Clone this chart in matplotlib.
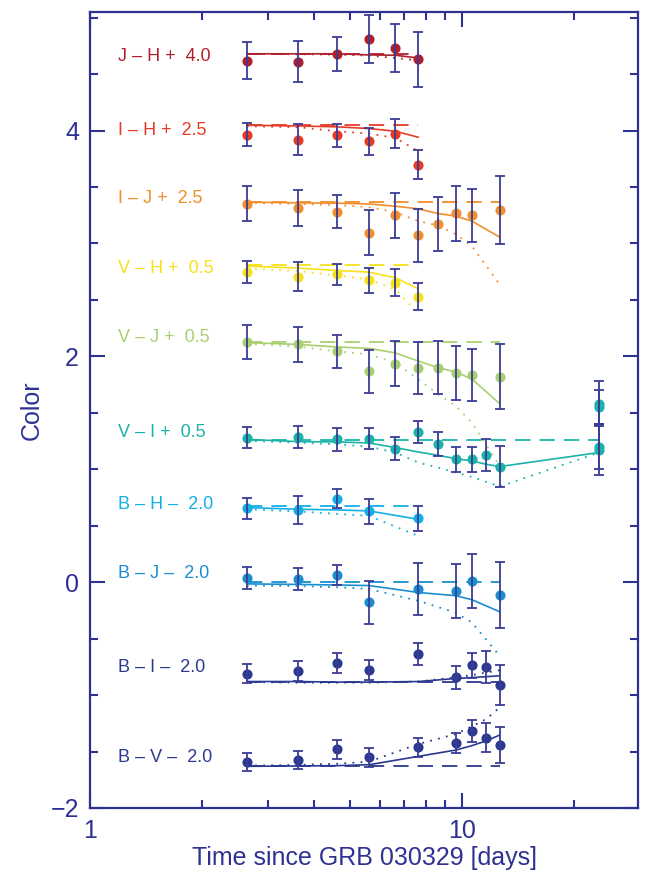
import numpy as np
import matplotlib
matplotlib.use('Agg')
import matplotlib.pyplot as plt

plt.rcParams['font.family'] = ['Liberation Sans', 'DejaVu Sans']

NAVY = '#2e3192'
BAR = '#3a3d94'

# times of the nightly points [days]
t_jh = [2.64, 3.62, 4.62, 5.62, 6.62, 7.62]
jh_c = [4.62, 4.61, 4.68, 4.81, 4.73, 4.63]
jh_e = [0.16, 0.18, 0.15, 0.21, 0.21, 0.24]
jh_solid = [4.68, 4.68, 4.68, 4.67, 4.667, 4.643]
jh_dot = [4.679, 4.676, 4.673, 4.664, 4.643, 4.622]
jh_dash = 4.68

t_ih = [2.64, 3.62, 4.62, 5.62, 6.62, 7.62]
ih_c = [3.965, 3.92, 3.958, 3.906, 3.973, 3.699]
ih_e = [0.10, 0.14, 0.10, 0.12, 0.13, 0.13]
ih_solid = [4.047, 4.041, 4.033, 4.018, 3.994, 3.941]
ih_dot = [4.038, 4.030, 3.994, 3.973, 3.935, 3.817]
ih_dash = 4.047

t_ij = [2.64, 3.62, 4.62, 5.62, 6.62, 7.62, 8.62, 9.62, 10.62, 12.62]
ij_c = [3.351, 3.316, 3.283, 3.094, 3.248, 3.071, 3.174, 3.268, 3.248, 3.295]
ij_e = [0.155, 0.16, 0.15, 0.20, 0.20, 0.236, 0.24, 0.243, 0.237, 0.30]
ij_solid = [3.366, 3.36, 3.357, 3.35, 3.33, 3.307, 3.265, 3.242, 3.198, 3.056]
ij_dot = [3.36, 3.35, 3.34, 3.322, 3.277, 3.198, 3.159, 3.08, 2.976, 2.637]
ij_dash = 3.369

t_vh = [2.64, 3.62, 4.62, 5.62, 6.62, 7.62]
vh_c = [2.746, 2.705, 2.726, 2.675, 2.652, 2.528]
vh_e = [0.10, 0.13, 0.09, 0.11, 0.12, 0.12]
vh_solid = [2.799, 2.782, 2.761, 2.746, 2.696, 2.599]
vh_dot = [2.779, 2.755, 2.717, 2.681, 2.593, 2.381]
vh_dash = 2.805

t_vj = [2.64, 3.62, 4.62, 5.62, 6.62, 7.62, 8.62, 9.62, 10.62, 12.62]
vj_c = [2.13, 2.106, 2.044, 1.867, 1.935, 1.90, 1.90, 1.856, 1.835, 1.82]
vj_e = [0.15, 0.155, 0.145, 0.19, 0.20, 0.23, 0.236, 0.24, 0.233, 0.29]
vj_solid = [2.121, 2.106, 2.083, 2.071, 2.03, 1.959, 1.90, 1.861, 1.80, 1.581]
vj_dot = [2.112, 2.086, 2.044, 2.018, 1.944, 1.796, 1.664, 1.56, 1.413, 1.03]
vj_dash = 2.13

t_vi = [2.64, 3.62, 4.62, 5.62, 6.62, 7.62, 8.62, 9.62, 10.62, 11.62, 12.62, 23.3, 23.3, 23.3, 23.3]
vi_c = [1.281, 1.286, 1.265, 1.272, 1.183, 1.330, 1.221, 1.088, 1.088, 1.127, 1.024, 1.58, 1.55, 1.20, 1.17]
vi_e = [0.09, 0.096, 0.10, 0.096, 0.10, 0.10, 0.106, 0.11, 0.113, 0.143, 0.18, 0.20, 0.15, 0.20, 0.22]
t_vi_model = [2.64, 3.62, 4.62, 5.62, 6.62, 7.62, 8.62, 9.62, 10.62, 11.62, 12.62, 23.3]
vi_solid = [1.265, 1.245, 1.242, 1.233, 1.192, 1.153, 1.124, 1.094, 1.074, 1.044, 1.024, 1.148]
vi_dot = [1.251, 1.236, 1.221, 1.201, 1.148, 1.06, 1.015, 0.971, 0.932, 0.888, 0.847, 1.148]
vi_dash = 1.26

t_bh = [2.64, 3.62, 4.62, 5.62, 7.62]
bh_c = [0.655, 0.640, 0.741, 0.626, 0.566]
bh_e = [0.094, 0.127, 0.088, 0.11, 0.11]
bh_solid = [0.661, 0.646, 0.64, 0.631, 0.557]
bh_dot = [0.646, 0.626, 0.605, 0.587, 0.41]
bh_dash = 0.675

t_bj = [2.64, 3.62, 4.62, 5.62, 7.62, 9.62, 10.62, 12.62]
bj_c = [0.035, 0.027, 0.065, -0.180, -0.062, -0.077, 0.012, -0.115]
bj_e = [0.097, 0.10, 0.09, 0.19, 0.23, 0.24, 0.24, 0.29]
bj_solid = [-0.015, -0.02, -0.025, -0.03, -0.091, -0.12, -0.155, -0.262]
bj_dot = [-0.03, -0.035, -0.045, -0.06, -0.165, -0.27, -0.357, -0.652]
bj_dash = 0.0

t_bi = [2.64, 3.62, 4.62, 5.62, 7.62, 9.62, 10.62, 11.62, 12.62]
bi_c = [-0.811, -0.785, -0.717, -0.776, -0.637, -0.843, -0.735, -0.750, -0.912]
bi_e = [0.086, 0.087, 0.09, 0.09, 0.094, 0.10, 0.11, 0.14, 0.18]
bi_solid = [-0.88, -0.88, -0.885, -0.885, -0.88, -0.853, -0.845, -0.837, -0.829]
bi_dot = [-0.885, -0.89, -0.89, -0.89, -0.88, -0.843, -0.823, -0.80, -0.78]
bi_dash = -0.882

t_bv = [2.64, 3.62, 4.62, 5.62, 7.62, 9.62, 10.62, 11.62, 12.62]
bv_c = [-1.593, -1.573, -1.481, -1.551, -1.463, -1.427, -1.321, -1.378, -1.44]
bv_e = [0.077, 0.08, 0.083, 0.085, 0.085, 0.09, 0.096, 0.13, 0.16]
bv_solid = [-1.631, -1.628, -1.625, -1.617, -1.543, -1.487, -1.448, -1.405, -1.354]
bv_dot = [-1.625, -1.619, -1.608, -1.59, -1.434, -1.345, -1.277, -1.212, -1.109]
bv_dash = -1.631

labels = ['J – H +  4.0', 'I – H +  2.5', 'I – J +  2.5', 'V – H +  0.5', 'V – J +  0.5',
          'V – I +  0.5', 'B – H –  2.0', 'B – J –  2.0', 'B – I –  2.0', 'B – V –  2.0']
label_y = [4.66, 4.0, 3.4, 2.78, 2.17, 1.33, 0.69, 0.08, -0.76, -1.55]
colors = ['#b01f2e', '#e63b26', '#f28e2b', '#f7e11b', '#a9cf6e',
          '#1bb3a8', '#12b0e6', '#1a8ed1', '#2b3990', '#2b3990']

series = [
    (t_jh, jh_c, jh_e, t_jh, jh_solid, jh_dot, jh_dash),
    (t_ih, ih_c, ih_e, t_ih, ih_solid, ih_dot, ih_dash),
    (t_ij, ij_c, ij_e, t_ij, ij_solid, ij_dot, ij_dash),
    (t_vh, vh_c, vh_e, t_vh, vh_solid, vh_dot, vh_dash),
    (t_vj, vj_c, vj_e, t_vj, vj_solid, vj_dot, vj_dash),
    (t_vi, vi_c, vi_e, t_vi_model, vi_solid, vi_dot, vi_dash),
    (t_bh, bh_c, bh_e, t_bh, bh_solid, bh_dot, bh_dash),
    (t_bj, bj_c, bj_e, t_bj, bj_solid, bj_dot, bj_dash),
    (t_bi, bi_c, bi_e, t_bi, bi_solid, bi_dot, bi_dash),
    (t_bv, bv_c, bv_e, t_bv, bv_solid, bv_dot, bv_dash),
]

fig = plt.figure(figsize=(6.54, 8.77), dpi=100)
ax = fig.add_axes([0.1376, 0.0787, 0.838, 0.9076])

for (t, c, e, tm, solid, dot, dash), col, lab, ly in zip(series, colors, labels, label_y):
    ax.plot(tm, solid, '-', color=col, lw=1.2, zorder=2)
    ax.plot(tm, dot, color=col, lw=1.3, ls=(0, (1, 3.5)), zorder=2)
    ax.plot([tm[0], tm[-1]], [dash, dash], color=col, lw=1.3, ls=(0, (8.5, 5)), zorder=2)
    ax.plot(t, c, 'o', color=col, ms=7.3, mec='none', zorder=3)
    ax.errorbar(t, c, yerr=e, fmt='none', ecolor=BAR, elinewidth=1.3,
                capsize=3.4, capthick=1.3, zorder=4)
    ax.text(1.19, ly, lab, color=col, fontsize=13, va='center', ha='left')

ax.set_xscale('log')
ax.set_xlim(1, 29.7)
ax.set_ylim(-2.0, 5.05)
ax.set_xticks([1, 10])
ax.set_xticklabels(['1', '10'])
ax.set_xticks([2, 3, 4, 5, 6, 7, 8, 9, 20], minor=True)
ax.xaxis.set_minor_formatter(matplotlib.ticker.NullFormatter())
ax.set_yticks([-2, 0, 2, 4])
ax.set_yticklabels(['\u22122', '0', '2', '4'])
ax.set_yticks(np.arange(-2, 5.01, 0.5), minor=True)

ax.tick_params(which='both', direction='in', top=True, right=True, colors=NAVY,
               labelsize=18, width=1.5, pad=8)
ax.tick_params(which='major', length=11)
ax.tick_params(which='minor', length=6)
for s in ax.spines.values():
    s.set_color(NAVY)
    s.set_linewidth(1.6)

ax.set_xlabel('Time since GRB 030329 [days]', fontsize=18, color=NAVY, labelpad=2)
ax.set_ylabel('Color', fontsize=18, color=NAVY, labelpad=5)

fig.savefig('out.png', dpi=100)
